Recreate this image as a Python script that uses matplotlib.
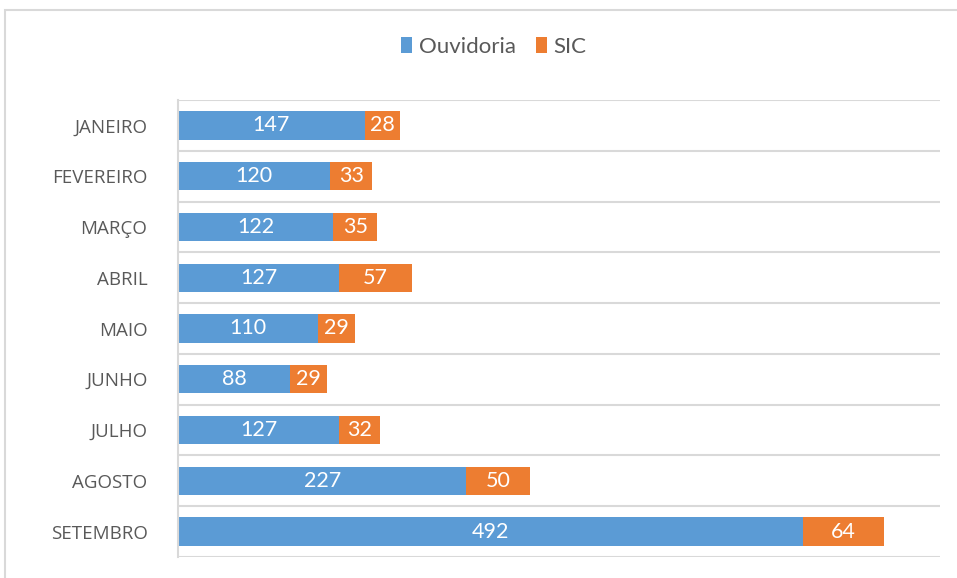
import numpy as np
import matplotlib
matplotlib.use('Agg')
import matplotlib.pyplot as plt
from matplotlib.patches import Rectangle

plt.rcParams['font.family'] = ['Lato', 'DejaVu Sans']

# dados
meses = ['JANEIRO', 'FEVEREIRO', 'MARÇO', 'ABRIL', 'MAIO', 'JUNHO', 'JULHO', 'AGOSTO', 'SETEMBRO']
ouvidoria = [147, 120, 122, 127, 110, 88, 127, 227, 492]
sic = [28, 33, 35, 57, 29, 29, 32, 50, 64]

azul = '#5B9BD5'
laranja = '#ED7D31'
cinza = '#595959'
grade = '#D9D9D9'

fig = plt.figure(figsize=(9.57, 5.78), dpi=100)
ax = fig.add_axes([178 / 957, 1 - 557 / 578, (940 - 178) / 957, (557 - 100) / 578])

y = np.arange(len(meses))
b1 = ax.barh(y, ouvidoria, height=0.56, color=azul, label='Ouvidoria')
b2 = ax.barh(y, sic, left=ouvidoria, height=0.56, color=laranja, label='SIC')
ax.bar_label(b1, labels=[str(v) for v in ouvidoria], label_type='center', color='white', fontsize=15.5)
ax.bar_label(b2, labels=[str(v) for v in sic], label_type='center', color='white', fontsize=15.5)

ax.set_xlim(0, 600)
ax.set_ylim(len(meses) - 0.5, -0.5)
ax.set_yticks(y)
ax.set_yticklabels(meses, color=cinza, fontsize=13.5, family=['Open Sans', 'DejaVu Sans'])
ax.tick_params(axis='y', length=0, pad=22)
ax.set_xticks([])
ax.set_yticks(np.arange(len(meses) + 1) - 0.5, minor=True)
ax.tick_params(axis='y', which='minor', length=0)
ax.grid(axis='y', which='minor', color=grade, linewidth=1.5)
ax.set_axisbelow(True)
for s in ['top', 'right', 'bottom']:
    ax.spines[s].set_visible(False)
ax.spines['left'].set_color(grade)
ax.spines['left'].set_linewidth(1.5)

fig.legend(loc='center', bbox_to_anchor=(494 / 957, 1 - 47 / 578), ncol=2, frameon=False,
           fontsize=16, labelcolor=cinza, handlelength=0.5, handleheight=0.75,
           handletextpad=0.3, columnspacing=0.9)

# moldura do gráfico
fig.patches.append(Rectangle((5 / 957, -0.1), 1.2, 1 - 10.5 / 578 + 0.1, transform=fig.transFigure,
                             fill=False, edgecolor=grade, linewidth=1.5))

fig.savefig('out.png', dpi=100)
